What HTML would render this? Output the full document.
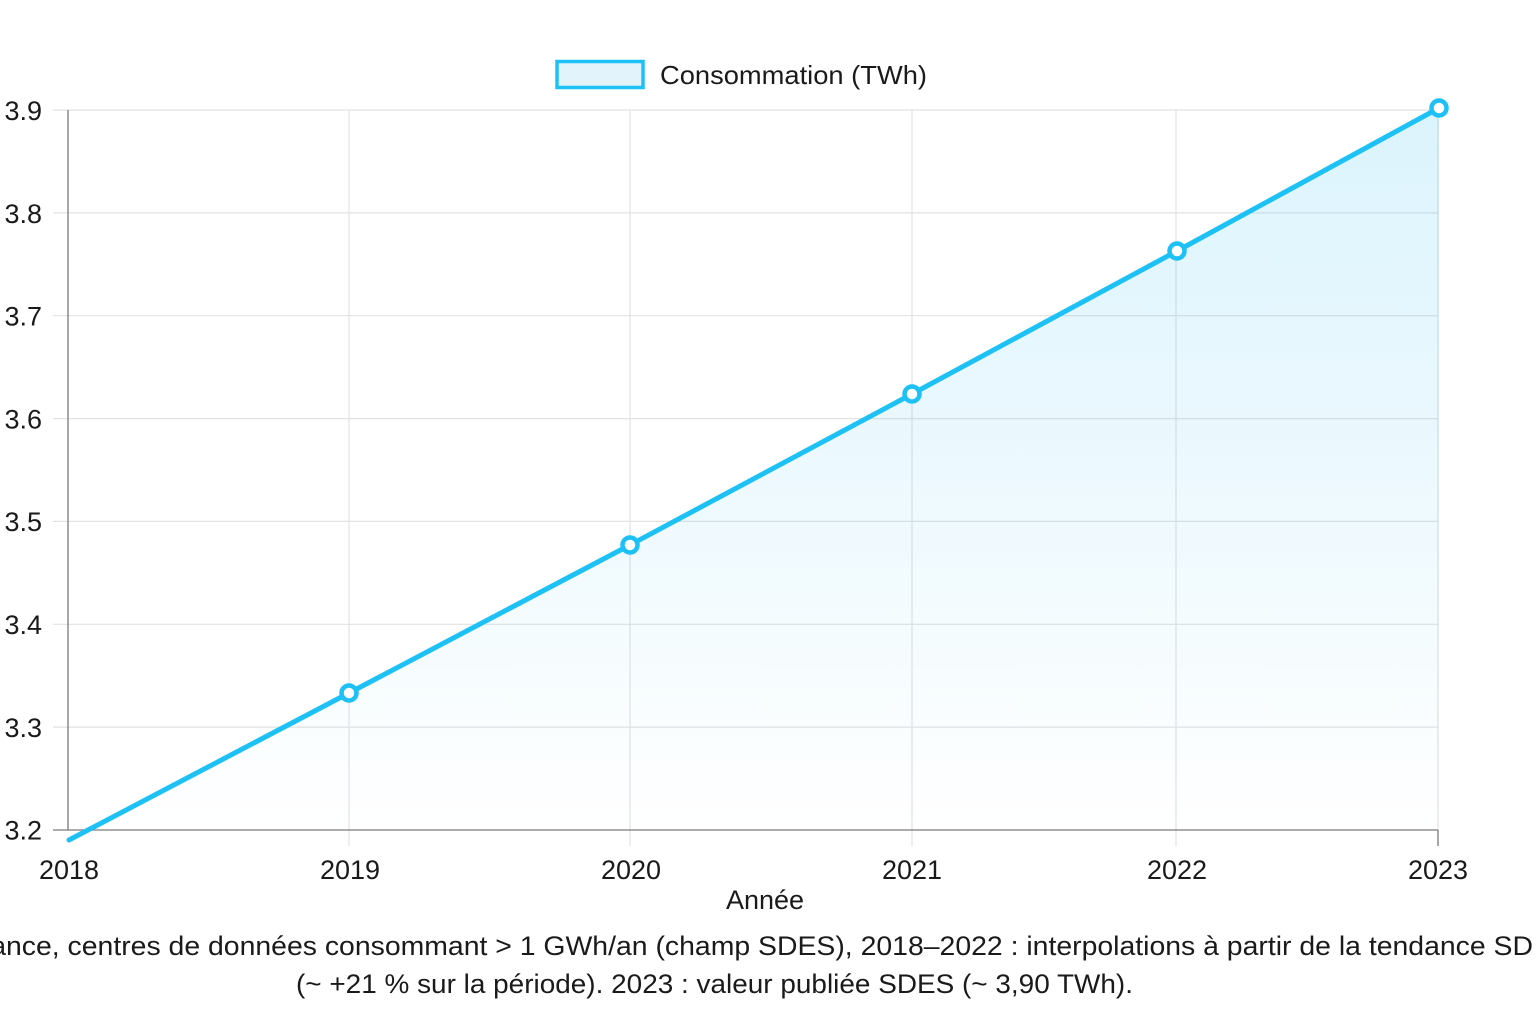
<!DOCTYPE html>
<html>
<head>
<meta charset="utf-8">
<style>
html,body{margin:0;padding:0;background:#fff;}
svg{display:block;}
text{font-family:"Liberation Sans",Arial,sans-serif;fill:#1a1a1a;}
</style>
</head>
<body>
<svg width="1536" height="1024" viewBox="0 0 1536 1024" xmlns="http://www.w3.org/2000/svg">
<defs>
<linearGradient id="fg" gradientUnits="userSpaceOnUse" x1="0" y1="108" x2="0" y2="830">
<stop offset="0" stop-color="rgb(20,180,240)" stop-opacity="0.15"/>
<stop offset="0.5" stop-color="rgb(20,180,240)" stop-opacity="0.08"/>
<stop offset="1" stop-color="rgb(20,180,240)" stop-opacity="0.0"/>
</linearGradient>
<clipPath id="ca"><rect x="68" y="100" width="1380" height="730"/></clipPath>
</defs>

<!-- horizontal grid -->
<g stroke="#e2e2e2" stroke-width="1.2">
<line x1="53" y1="110" x2="1438" y2="110"/>
<line x1="53" y1="212.9" x2="1438" y2="212.9"/>
<line x1="53" y1="315.7" x2="1438" y2="315.7"/>
<line x1="53" y1="418.6" x2="1438" y2="418.6"/>
<line x1="53" y1="521.4" x2="1438" y2="521.4"/>
<line x1="53" y1="624.3" x2="1438" y2="624.3"/>
<line x1="53" y1="727.1" x2="1438" y2="727.1"/>
</g>
<!-- vertical grid -->
<g stroke="#e2e2e2" stroke-width="1.2">
<line x1="349" y1="110" x2="349" y2="846"/>
<line x1="630" y1="110" x2="630" y2="846"/>
<line x1="912" y1="110" x2="912" y2="846"/>
<line x1="1176" y1="110" x2="1176" y2="846"/>
<line x1="1438" y1="110" x2="1438" y2="830"/>
</g>

<!-- fill -->
<polygon clip-path="url(#ca)" fill="url(#fg)" points="69,840 349,693 630,545 912,394 1177,251 1439,108 1439,830 69,830"/>

<!-- axes -->
<line x1="68" y1="110" x2="68" y2="830" stroke="#7a7a7a" stroke-width="1.3"/>
<line x1="53" y1="830" x2="1438" y2="830" stroke="#7a7a7a" stroke-width="1.3"/>
<line x1="1438" y1="830" x2="1438" y2="846" stroke="#7a7a7a" stroke-width="1.3"/>

<!-- series line -->
<polyline fill="none" stroke="#1ec1f5" stroke-width="5" stroke-linejoin="round" stroke-linecap="round" points="69,840 349,693 630,545 912,394 1177,251 1439,108"/>
<g fill="#fff" stroke="#1ec1f5" stroke-width="4.5">
<circle cx="349" cy="693" r="7.5"/>
<circle cx="630" cy="545" r="7.5"/>
<circle cx="912" cy="394" r="7.5"/>
<circle cx="1177" cy="251" r="7.5"/>
<circle cx="1439" cy="108" r="7.5"/>
</g>

<!-- y labels -->
<g font-size="27" text-anchor="end">
<text x="42" y="120">3.9</text>
<text x="42" y="223">3.8</text>
<text x="42" y="325.5">3.7</text>
<text x="42" y="428.5">3.6</text>
<text x="42" y="531">3.5</text>
<text x="42" y="634">3.4</text>
<text x="42" y="737">3.3</text>
<text x="42" y="839.5">3.2</text>
</g>

<!-- x labels -->
<g font-size="27" text-anchor="middle">
<text x="69" y="879">2018</text>
<text x="350" y="879">2019</text>
<text x="631" y="879">2020</text>
<text x="912" y="879">2021</text>
<text x="1177" y="879">2022</text>
<text x="1438" y="879">2023</text>
<text x="765" y="909">Année</text>
</g>

<!-- legend -->
<rect x="557" y="61.5" width="86" height="26" fill="#e2f3fb" stroke="#1ec1f5" stroke-width="3.5"/>
<text x="660" y="84" font-size="26" textLength="267" lengthAdjust="spacingAndGlyphs">Consommation (TWh)</text>

<!-- caption -->
<g font-size="27">
<text x="6" y="955" text-anchor="end">En Fra</text>
<text x="6" y="955" textLength="1527" lengthAdjust="spacingAndGlyphs">nce, centres de données consommant &gt; 1 GWh/an (champ SDES), 2018–2022 :  interpolations à partir de la tendance SD</text>
<text x="1534" y="955">ES</text>
<text x="296" y="993" textLength="837" lengthAdjust="spacingAndGlyphs">(~ +21 % sur la période). 2023 :  valeur publiée SDES (~ 3,90 TWh).</text>
</g>
</svg>
</body>
</html>
